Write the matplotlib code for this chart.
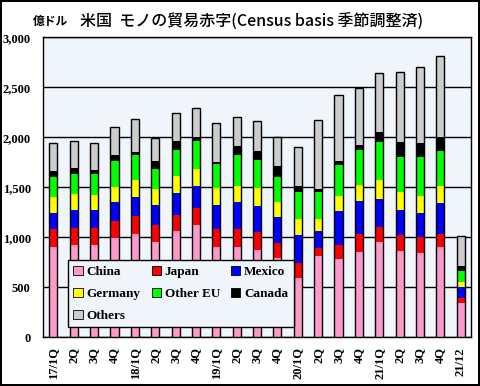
import matplotlib
matplotlib.use("Agg")
import matplotlib.pyplot as plt
import numpy as np

# 期間ラベル
periods = ["17/1Q", "2Q", "3Q", "4Q", "18/1Q", "2Q", "3Q", "4Q", "19/1Q", "2Q", "3Q",
           "4Q", "20/1Q", "2Q", "3Q", "4Q", "21/1Q", "2Q", "3Q", "4Q", "21/12"]

# 億ドル
china    = [906, 926, 926, 990, 1036, 950, 1060, 1120, 903, 900, 870, 790, 590, 810, 786, 850, 950, 860, 840, 900, 340]
japan    = [174, 170, 170, 170, 180, 176, 160, 170, 177, 180, 180, 150, 150, 80, 134, 180, 150, 160, 160, 130, 50]
mexico   = [166, 180, 174, 190, 190, 194, 220, 220, 240, 270, 260, 260, 280, 170, 346, 330, 287, 250, 240, 310, 113]
germany  = [160, 160, 156, 156, 170, 160, 170, 170, 170, 160, 180, 150, 160, 120, 144, 160, 183, 180, 170, 170, 47]
other_eu = [200, 200, 210, 260, 250, 206, 266, 280, 240, 316, 286, 256, 276, 276, 313, 357, 387, 357, 397, 357, 110]
canada   = [57, 54, 34, 54, 27, 77, 87, 43, 23, 87, 90, 110, 57, 27, 37, 46, 96, 146, 136, 133, 53]
others   = [283, 276, 270, 280, 327, 233, 277, 287, 387, 287, 294, 284, 387, 687, 667, 574, 587, 697, 757, 810, 297]

names = ["China", "Japan", "Mexico", "Germany", "Other EU", "Canada", "Others"]
colors = ["#ff99cc", "#ff0000", "#0000ff", "#ffff00", "#00ff00", "#000000", "#cccccc"]
series = [china, japan, mexico, germany, other_eu, canada, others]

serif = "Liberation Serif"

fig = plt.figure(figsize=(4.8, 3.86), dpi=100)
fig.patch.set_edgecolor("black")
fig.patch.set_linewidth(1.5)
ax = fig.add_axes([0.090, 0.126, 0.891, 0.777])
ax.set_facecolor("#f0f5fb")

x = np.arange(len(periods))
w = 0.4
bottom = np.zeros(len(periods))
handles = []
for name, col, vals in zip(names, colors, series):
    vals = np.array(vals, dtype=float)
    b = ax.bar(x, vals, w, bottom=bottom, color=col, linewidth=0, zorder=3, label=name)
    handles.append(b)
    bottom += vals
# 棒全体の枠線
ax.bar(x, bottom, w, fill=False, edgecolor="black", linewidth=1, zorder=4)

ax.set_xlim(-0.5, len(periods) - 0.5)
ax.set_ylim(0, 3000)
ax.set_yticks(np.arange(0, 3001, 500))
ax.set_yticklabels([f"{v:,}" for v in range(0, 3001, 500)])
ax.yaxis.grid(True, color="black", linewidth=1)
ax.set_axisbelow(True)
for s in ax.spines.values():
    s.set_color("black")
    s.set_linewidth(1)

ax.set_xticks(x)
ax.set_xticklabels(periods, rotation=90)
ax.tick_params(axis="both", length=0)
ax.tick_params(axis="y", pad=9)
ax.tick_params(axis="x", pad=7)
for lab in ax.get_xticklabels() + ax.get_yticklabels():
    lab.set_fontfamily(serif)
    lab.set_fontweight("bold")
    lab.set_fontsize(9)

# 凡例は行ごとに並べる
order = [0, 3, 6, 1, 4, 2, 5]
leg = ax.legend([handles[i] for i in order], [names[i] for i in order], ncol=3,
                loc="lower left", bbox_to_anchor=(0.0585, 0.033, 0.527, 0.225),
                mode="expand", borderaxespad=0, fancybox=False, framealpha=1,
                facecolor="#f0f5fb", edgecolor="black", handlelength=0.7,
                handleheight=0.7, handletextpad=0.3, labelspacing=0.75,
                prop={"family": serif, "weight": "bold", "size": 9.5})
leg.get_frame().set_linewidth(1)
leg.set_zorder(5)
for p in leg.get_patches():
    p.set_edgecolor("black")
    p.set_linewidth(0.6)

fig.text(33 / 480, 1 - 21 / 386, "億ドル", fontsize=8.5, fontweight="bold",
         family="Noto Sans CJK JP", va="center", ha="left")
fig.text(80 / 480, 1 - 22.5 / 386, "米国  モノの貿易赤字(Census basis 季節調整済)",
         fontsize=11.5, family="Noto Sans CJK JP", fontweight="medium",
         va="center", ha="left")

fig.savefig("out.png", dpi=100)
